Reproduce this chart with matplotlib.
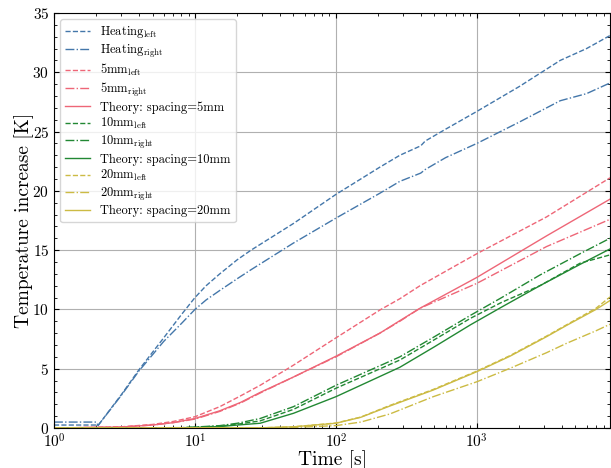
import matplotlib
matplotlib.use("Agg")
import matplotlib.pyplot as plt
import matplotlib.ticker as mticker

plt.rcParams.update({
    "font.family": "serif",
    "font.serif": ["cmr10"],
    "mathtext.fontset": "cm",
    "axes.formatter.use_mathtext": True,
    "xtick.direction": "in",
    "ytick.direction": "in",
    "xtick.top": True,
    "ytick.right": True,
    "xtick.minor.visible": True,
    "ytick.minor.visible": True,
})

BLUE, RED, GREEN, YELLOW = "#4477AA", "#EE6677", "#228833", "#CCBB44"

# heating wire
t_heat = [1, 2, 2.05, 3, 4, 6, 8, 10, 12, 15, 20, 25, 50, 100, 205, 284, 400,
          430, 600, 1000, 2000, 3900, 6000, 8800]
heat_left = [0.25, 0.25, 0.2, 2.8, 4.9, 7.6, 9.55, 11.0, 12.0, 13.0, 14.2, 15.0,
             17.25, 19.7, 22.0, 23.0, 23.8, 24.2, 25.2, 26.7, 28.8, 31.0, 32.0,
             33.1]
heat_right = [0.5, 0.5, 0.2, 2.75, 4.8, 7.3, 8.8, 10.0, 10.8, 11.6, 12.6, 13.35,
              15.6, 17.7, 19.8, 20.8, 21.5, 21.8, 22.8, 24.0, 25.8, 27.6, 28.2,
              29.1]

# 5 mm
t_5mm = [1, 3, 5, 7, 10, 15, 21, 29, 50, 100, 205, 284, 395, 1000, 3119, 8800]
left_5mm = [0, 0.1, 0.3, 0.55, 0.95, 1.8, 2.7, 3.6, 5.3, 7.6, 9.95, 10.9, 12.0,
            14.7, 17.8, 21.1]
right_5mm = [0, 0.08, 0.25, 0.45, 0.75, 1.4, 2.1, 2.95, 4.3, 6.0, 8.0, 9.0, 10.1,
             12.2, 15.3, 17.6]
theory_5mm = [0, 0.08, 0.25, 0.45, 0.8, 1.45, 2.15, 3.0, 4.3, 6.05, 8.0, 9.05,
              10.1, 12.7, 16.2, 19.3]

# 10 mm
t_10mm = [1, 8, 10, 15, 20, 29, 50, 100, 284, 500, 900, 1500, 2800, 5400, 8800]
left_10mm = [0, 0.02, 0.06, 0.16, 0.32, 0.6, 1.57, 3.35, 5.73, 7.45, 9.25, 10.6,
             12.0, 13.9, 14.6]
right_10mm = [0, 0.03, 0.08, 0.2, 0.4, 0.8, 1.8, 3.6, 6.0, 7.7, 9.5, 11.0, 12.9,
              14.7, 16.0]
theory_10mm = [0, 0.02, 0.05, 0.12, 0.25, 0.4, 1.24, 2.64, 5.12, 6.85, 8.7, 10.2,
               12.0, 13.8, 15.1]

# 20 mm
t_20mm = [1, 30, 50, 100, 150, 241, 490, 1000, 1715, 3120, 4325, 7000, 8800]
left_20mm = [0, 0.02, 0.1, 0.42, 0.92, 1.9, 3.25, 4.8, 6.1, 7.75, 8.7, 10.1, 11.05]
right_20mm = [0, 0.01, 0.05, 0.2, 0.5, 1.18, 2.64, 3.9, 5.03, 6.35, 7.14, 8.2, 8.75]
theory_20mm = [0, 0.02, 0.1, 0.4, 0.9, 1.85, 3.2, 4.75, 6.05, 7.7, 8.65, 10.0, 10.75]

fig = plt.figure(figsize=(6.11, 4.68), dpi=100)
ax = fig.add_axes([54 / 611, 1 - 428 / 468, 556 / 611, 415 / 468])

lw = 1.0
ax.plot(t_heat, heat_left, "--", color=BLUE, lw=lw, label=r"Heating$_{\rm left}$")
ax.plot(t_heat, heat_right, "-.", color=BLUE, lw=lw, label=r"Heating$_{\rm right}$")
ax.plot(t_5mm, left_5mm, "--", color=RED, lw=lw, label=r"5mm$_{\rm left}$")
ax.plot(t_5mm, right_5mm, "-.", color=RED, lw=lw, label=r"5mm$_{\rm right}$")
ax.plot(t_5mm, theory_5mm, "-", color=RED, lw=lw, label="Theory: spacing=5mm")
ax.plot(t_10mm, left_10mm, "--", color=GREEN, lw=lw, label=r"10mm$_{\rm left}$")
ax.plot(t_10mm, right_10mm, "-.", color=GREEN, lw=lw, label=r"10mm$_{\rm right}$")
ax.plot(t_10mm, theory_10mm, "-", color=GREEN, lw=lw, label="Theory: spacing=10mm")
ax.plot(t_20mm, left_20mm, "--", color=YELLOW, lw=lw, label=r"20mm$_{\rm left}$")
ax.plot(t_20mm, right_20mm, "-.", color=YELLOW, lw=lw, label=r"20mm$_{\rm right}$")
ax.plot(t_20mm, theory_20mm, "-", color=YELLOW, lw=lw, label="Theory: spacing=20mm")

ax.set_xscale("log")
ax.set_xlim(1, 8800)
ax.set_ylim(0, 35)
ax.yaxis.set_major_locator(mticker.MultipleLocator(5))
ax.yaxis.set_minor_locator(mticker.MultipleLocator(1))
ax.tick_params(labelsize=11)
ax.grid(True, which="major", color="#b0b0b0", lw=0.8)

ax.set_xlabel("Time [s]", fontsize=14, labelpad=-1)
ax.set_ylabel("Temperature increase [K]", fontsize=14, labelpad=-1)
ax.legend(loc="upper left", fontsize=9, labelspacing=0.2)

fig.savefig("out.png", dpi=100)
